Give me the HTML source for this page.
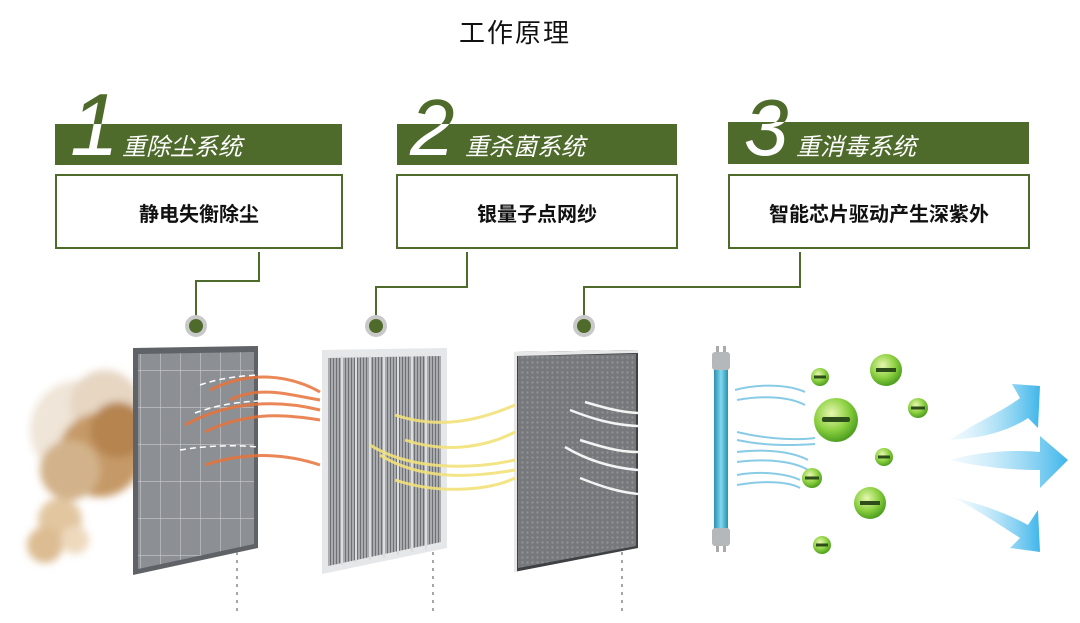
<!DOCTYPE html>
<html><head><meta charset="utf-8"><style>
body{margin:0;background:#fff;}
svg{display:block;}
text{font-family:"Liberation Sans","Noto Sans CJK SC",sans-serif;}
</style></head><body>
<svg width="1080" height="623" viewBox="0 0 1080 623" xmlns="http://www.w3.org/2000/svg">
<defs>
<radialGradient id="ball" cx="40%" cy="35%" r="65%"><stop offset="0" stop-color="#e8f7b0"/><stop offset="0.6" stop-color="#8bd040"/><stop offset="1" stop-color="#4fa020"/></radialGradient>
<linearGradient id="arr" x1="0" x2="1"><stop offset="0" stop-color="#d6effb" stop-opacity="0.3"/><stop offset="1" stop-color="#3fb6ea"/></linearGradient>
<linearGradient id="tube" x1="0" x2="1"><stop offset="0" stop-color="#2a8fb0"/><stop offset="0.5" stop-color="#7fd8f0"/><stop offset="1" stop-color="#2a8fb0"/></linearGradient>
<pattern id="grid1" width="20" height="37" patternUnits="userSpaceOnUse"><rect width="20" height="37" fill="#8c8f94"/><path d="M0 0H20M0 0V37" stroke="#c8cacd" stroke-width="1.2"/></pattern>
<pattern id="vl" width="3" height="4" patternUnits="userSpaceOnUse"><rect width="3" height="4" fill="#a9abae"/><rect width="1" height="4" fill="#6d7074"/></pattern>
<pattern id="dots" width="5" height="5" patternUnits="userSpaceOnUse"><rect width="5" height="5" fill="#76787b"/><circle cx="2.5" cy="2.5" r="1.2" fill="#8f9194"/></pattern>
<clipPath id="c1"><rect x="55" y="124" width="287" height="41"/></clipPath>
<clipPath id="c2"><rect x="397" y="124" width="280" height="41"/></clipPath>
<clipPath id="c3"><rect x="728" y="122" width="301" height="42"/></clipPath>
<filter id="blur"><feGaussianBlur stdDeviation="4"/></filter>
</defs>

<text x="515" y="42" font-size="26" text-anchor="middle" fill="#111" font-family="'Noto Serif CJK SC',serif" letter-spacing="2">工作原理</text>

<rect x="55" y="124" width="287" height="41" fill="#4f6b2c"/>
<rect x="56" y="175" width="286" height="73" fill="#fff" stroke="#4f6b2c" stroke-width="2"/>
<text x="199" y="221" font-size="20" font-weight="bold" text-anchor="middle" fill="#111">静电失衡除尘</text>
<text x="70" y="155" font-size="88" font-style="italic" fill="#4f6b2c" font-family="Liberation Sans,sans-serif">1</text>
<text x="70" y="155" font-size="88" font-style="italic" fill="#fff" clip-path="url(#c1)" font-family="Liberation Sans,sans-serif">1</text>
<text x="122" y="155" font-size="24" font-style="italic" fill="#fff">重除尘系统</text>

<rect x="397" y="124" width="280" height="41" fill="#4f6b2c"/>
<rect x="397" y="175" width="280" height="73" fill="#fff" stroke="#4f6b2c" stroke-width="2"/>
<text x="537" y="221" font-size="20" font-weight="bold" text-anchor="middle" fill="#111">银量子点网纱</text>
<text x="410" y="155" font-size="80" font-style="italic" fill="#4f6b2c" font-family="Liberation Sans,sans-serif">2</text>
<text x="410" y="155" font-size="80" font-style="italic" fill="#fff" clip-path="url(#c2)" font-family="Liberation Sans,sans-serif">2</text>
<text x="465" y="155" font-size="24" font-style="italic" fill="#fff">重杀菌系统</text>

<rect x="728" y="122" width="301" height="42" fill="#4f6b2c"/>
<rect x="729" y="175" width="300" height="73" fill="#fff" stroke="#4f6b2c" stroke-width="2"/>
<text x="879" y="221" font-size="20" font-weight="bold" text-anchor="middle" fill="#111">智能芯片驱动产生深紫外</text>
<text x="744" y="155" font-size="80" font-style="italic" fill="#4f6b2c" font-family="Liberation Sans,sans-serif">3</text>
<text x="744" y="155" font-size="80" font-style="italic" fill="#fff" clip-path="url(#c3)" font-family="Liberation Sans,sans-serif">3</text>
<text x="796" y="155" font-size="24" font-style="italic" fill="#fff">重消毒系统</text>

<g fill="none" stroke="#4f6b2c" stroke-width="2">
<path d="M259 252V281H196V318"/>
<path d="M467 252V287H376V318"/>
<path d="M800 252V287H584V318"/>
</g>
<g>
<circle cx="196" cy="326" r="11" fill="#c9c9c9"/><circle cx="196" cy="326" r="7" fill="#4f6b2c"/>
<circle cx="376" cy="326" r="11" fill="#c9c9c9"/><circle cx="376" cy="326" r="7" fill="#4f6b2c"/>
<circle cx="584" cy="326" r="11" fill="#c9c9c9"/><circle cx="584" cy="326" r="7" fill="#4f6b2c"/>
</g>

<g filter="url(#blur)">
<circle cx="80" cy="430" r="50" fill="#efe5d8"/>
<circle cx="105" cy="405" r="35" fill="#e6d6c2"/>
<circle cx="100" cy="455" r="42" fill="#c69a68"/>
<circle cx="118" cy="430" r="28" fill="#b58450"/>
<circle cx="70" cy="470" r="30" fill="#d2b28a"/>
<circle cx="60" cy="520" r="22" fill="#e2c6a0"/>
<circle cx="45" cy="545" r="18" fill="#dcbc92"/>
<circle cx="75" cy="540" r="14" fill="#eed9bd"/>
</g>

<polygon points="133,348 258,346 258,548 133,575" fill="#5f6266"/>
<polygon points="138,354 254,352 254,544 138,569" fill="url(#grid1)"/>
<polygon points="322,350 447,348 447,548 322,574" fill="#e6e7e8"/>
<polygon points="328,358 441,356 441,542 328,566" fill="url(#vl)"/>
<g stroke="#dcdddf" stroke-width="2"><path d="M342 356V565M356 356V562M370 356V560M384 356V558M398 356V555M412 356V552M426 356V550"/></g>
<polygon points="514,352 638,350 638,548 514,572" fill="#3e4043"/>
<polygon points="518,356 636,354 636,546 518,568" fill="url(#dots)"/>
<polygon points="514,352 638,350 638,353 517,356 517,572 514,572" fill="#e8e8e8"/>

<g stroke="#888" stroke-width="1.5" stroke-dasharray="3,5">
<path d="M237 552V612"/><path d="M433 552V612"/><path d="M622 552V612"/>
</g>

<g fill="none" stroke="#e8733a" stroke-width="3" opacity="0.85">
<path d="M210 390C250 370 290 375 320 392"/>
<path d="M185 425C230 400 280 400 320 410"/>
<path d="M205 432C250 410 290 415 320 420"/>
<path d="M205 465C250 450 290 455 320 465"/>
<path d="M230 400C260 385 290 395 320 400"/>
</g>
<g fill="none" stroke="#fff" stroke-width="1.5" stroke-dasharray="6,4">
<path d="M200 385C220 378 240 376 258 375"/><path d="M195 413C220 404 240 402 258 401"/><path d="M180 450C210 445 240 445 258 447"/>
</g>
<g fill="none" stroke="#f2e27a" stroke-width="3" opacity="0.9">
<path d="M395 415C440 430 480 420 515 405"/>
<path d="M405 440C450 455 490 445 515 432"/>
<path d="M370 445C410 470 470 470 515 460"/>
<path d="M395 480C440 495 490 490 515 478"/>
<path d="M380 455C420 480 470 478 515 470"/>
</g>
<g fill="none" stroke="#f4f4f4" stroke-width="2.5">
<path d="M585 402C605 408 620 412 638 413"/>
<path d="M570 410C595 420 615 425 638 426"/>
<path d="M580 440C605 448 620 452 638 452"/>
<path d="M565 447C590 462 615 468 638 470"/>
<path d="M580 478C605 488 620 492 638 494"/>
</g>

<rect x="714" y="360" width="14" height="180" fill="url(#tube)"/>
<rect x="712" y="352" width="18" height="18" rx="3" fill="#b5b8bb"/>
<rect x="712" y="528" width="18" height="18" rx="3" fill="#b5b8bb"/>
<rect x="716" y="546" width="3" height="6" fill="#aaa"/><rect x="723" y="546" width="3" height="6" fill="#aaa"/>
<rect x="716" y="346" width="3" height="6" fill="#aaa"/><rect x="723" y="346" width="3" height="6" fill="#aaa"/>
<g fill="none" stroke="#7cc6e4" stroke-width="2" opacity="0.9">
<path d="M735 390C760 383 790 385 805 392"/><path d="M737 400C765 395 790 397 805 405"/>
<path d="M737 432C770 440 800 440 815 438"/><path d="M737 440C770 447 800 445 815 444"/>
<path d="M737 452C770 448 795 453 808 460"/><path d="M737 462C770 458 795 462 808 470"/>
<path d="M737 475C765 470 790 475 800 480"/><path d="M737 485C765 480 790 482 800 488"/>
</g>

<g>
<circle cx="836" cy="420" r="22" fill="url(#ball)"/><rect x="822" y="417" width="28" height="5" rx="2" fill="#2d4d1a"/>
<circle cx="820" cy="377" r="9" fill="url(#ball)"/><rect x="814" y="375.5" width="12" height="3" fill="#2d4d1a"/>
<circle cx="886" cy="370" r="16" fill="url(#ball)"/><rect x="876" y="368" width="20" height="4" fill="#2d4d1a"/>
<circle cx="918" cy="408" r="10" fill="url(#ball)"/><rect x="911" y="406.5" width="14" height="3" fill="#2d4d1a"/>
<circle cx="884" cy="457" r="9" fill="url(#ball)"/><rect x="878" y="455.5" width="12" height="3" fill="#2d4d1a"/>
<circle cx="812" cy="478" r="10" fill="url(#ball)"/><rect x="805" y="476.5" width="14" height="3" fill="#2d4d1a"/>
<circle cx="870" cy="503" r="16" fill="url(#ball)"/><rect x="860" y="501" width="20" height="4" fill="#2d4d1a"/>
<circle cx="822" cy="545" r="9" fill="url(#ball)"/><rect x="816" y="543.5" width="12" height="3" fill="#2d4d1a"/>
</g>

<g fill="url(#arr)">
<path d="M950 440C980 420 1005 410 1020 398L1012 384L1040 386L1038 428L1028 418C1010 430 985 438 950 440Z"/>
<path d="M950 460C985 450 1020 450 1040 452L1040 436L1068 460L1040 488L1040 470C1015 470 985 468 950 460Z"/>
<path d="M955 498C985 505 1010 515 1028 525L1038 510L1040 552L1010 548L1020 538C1000 525 985 515 955 498Z"/>
</g>
</svg>
</body></html>
